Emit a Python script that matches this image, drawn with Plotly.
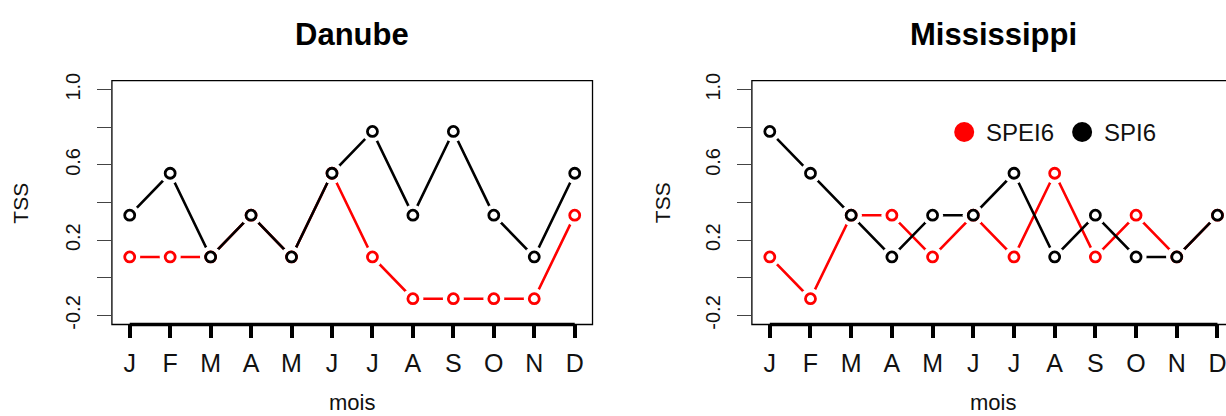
import plotly.graph_objects as go

# Monthly TSS scores per river basin for the two drought indices
months = ["J", "F", "M", "A", "M", "J", "J", "A", "S", "O", "N", "D"]
danube_spi6 = [0.333, 0.556, 0.111, 0.333, 0.111, 0.556, 0.778, 0.333, 0.778, 0.333, 0.111, 0.556]
danube_spei6 = [0.111, 0.111, 0.111, 0.333, 0.111, 0.556, 0.111, -0.111, -0.111, -0.111, -0.111, 0.333]
miss_spi6 = [0.778, 0.556, 0.333, 0.111, 0.333, 0.333, 0.556, 0.111, 0.333, 0.111, 0.111, 0.333]
miss_spei6 = [0.111, -0.111, 0.333, 0.333, 0.111, 0.333, 0.111, 0.556, 0.111, 0.333, 0.111, 0.333]
y_tick_vals = [-0.2, 0.0, 0.2, 0.4, 0.6, 0.8, 1.0]
y_tick_text = ["-0.2", "", "0.2", "", "0.6", "", "1.0"]
panel_titles = ["Danube", "Mississippi"]
series_names = ["SPEI6", "SPI6"]
series_colors = ["#ff0000", "#000000"]

W, H = 1226, 416
FONT = "Liberation Sans, Arial, sans-serif"
TXT = "#111111"
x_idx = list(range(1, len(months) + 1))


def px_x(p):
    return p / W


def px_y(p):
    return 1 - p / H


fig = go.Figure()

panels = [
    ("x", "y", [danube_spei6, danube_spi6]),
    ("x2", "y2", [miss_spei6, miss_spi6]),
]

for xa, ya, series in panels:
    # connecting lines
    for vals, col in zip(series, series_colors):
        fig.add_trace(go.Scatter(x=x_idx, y=vals, mode="lines", xaxis=xa, yaxis=ya,
                                 line=dict(color=col, width=2.6), showlegend=False,
                                 hoverinfo="skip"))
    # white halo leaves a gap between line and point (R type="b")
    for vals in series:
        fig.add_trace(go.Scatter(x=x_idx, y=vals, mode="markers", xaxis=xa, yaxis=ya,
                                 marker=dict(color="white", size=21, line=dict(width=0)),
                                 showlegend=False, hoverinfo="skip"))
    # open circle points
    for vals, col, name in zip(series, series_colors, series_names):
        fig.add_trace(go.Scatter(x=x_idx, y=vals, mode="markers", xaxis=xa, yaxis=ya,
                                 name=name,
                                 marker=dict(color="white", size=10,
                                             line=dict(color=col, width=2.8)),
                                 showlegend=False))

y_dom = [px_y(326.7), px_y(75)]
x_dom1 = [px_x(112), px_x(593)]
x_dom2 = [px_x(752.5), 1.0]

xaxis_common = dict(
    tickmode="array", tickvals=x_idx, ticktext=months,
    ticks="outside", ticklen=13, tickwidth=3.5, tickcolor="black",
    tickfont=dict(family=FONT, size=25, color=TXT),
    showgrid=False, zeroline=False, showline=False,
    ticklabelstandoff=4, ticklabeloverflow="allow",
)
yaxis_common = dict(
    range=[-0.248, 1.048], tickmode="array", tickvals=y_tick_vals, ticktext=y_tick_text,
    ticks="outside", ticklen=14, tickwidth=1.2, tickcolor="#444444",
    tickfont=dict(family=FONT, size=20, color=TXT), tickangle=-90,
    showgrid=False, zeroline=False, showline=False, domain=y_dom,
    ticklabelstandoff=9,
)

fig.update_layout(
    width=W, height=H, margin=dict(l=0, r=0, t=0, b=0),
    plot_bgcolor="white", paper_bgcolor="white",
    xaxis=dict(domain=x_dom1, range=[0.56, 12.44], **xaxis_common),
    xaxis2=dict(domain=x_dom2, range=[0.56, 0.56 + (1226 - 752.5) / 40.73],
                anchor="y2", **xaxis_common),
    yaxis=dict(anchor="x", **yaxis_common),
    yaxis2=dict(anchor="x2", **yaxis_common),
    showlegend=False,
)

shapes = []
annotations = []
box_specs = [("x", "y", 1.0), ("x2", "y2", 1.1)]
title_x = [px_x(352.5), px_x(994)]
for (xa, ya, right), title, tx in zip(box_specs, panel_titles, title_x):
    # plot frame
    shapes.append(dict(type="rect", xref=f"{xa} domain", yref=f"{ya} domain",
                       x0=0, x1=right, y0=0, y1=1, line=dict(color="black", width=1.3)))
    # heavy x axis line spanning first to last month
    shapes.append(dict(type="line", xref=xa, yref=f"{ya} domain",
                       x0=x_idx[0], x1=x_idx[-1], y0=0, y1=0,
                       line=dict(color="black", width=3.5)))
    annotations.append(dict(text=f"<b>{title}</b>", xref="paper", yref="paper",
                            x=tx, y=px_y(27), showarrow=False,
                            font=dict(family=FONT, size=31, color="black"),
                            xanchor="center", yanchor="middle"))
    annotations.append(dict(text="mois", xref="paper", yref="paper",
                            x=tx, y=px_y(407), showarrow=False,
                            font=dict(family=FONT, size=22, color=TXT),
                            xanchor="center", yanchor="middle"))

for xc in [21, 663]:
    annotations.append(dict(text="TSS", xref="paper", yref="paper",
                            x=px_x(xc), y=px_y(201), showarrow=False, textangle=-90,
                            font=dict(family=FONT, size=21, color=TXT),
                            xanchor="center", yanchor="middle"))

# legend in the Mississippi panel
legend_items = [(965, 988), (1083, 1106)]
for (cx, tx), name, col in zip(legend_items, series_names, series_colors):
    shapes.append(dict(type="circle", xref="paper", yref="paper",
                       xsizemode="pixel", ysizemode="pixel",
                       xanchor=px_x(cx), yanchor=px_y(128),
                       x0=-10, x1=10, y0=-10, y1=10,
                       fillcolor=col, line=dict(width=0)))
    annotations.append(dict(text=name, xref="paper", yref="paper",
                            x=px_x(tx - 3), y=px_y(128), showarrow=False,
                            font=dict(family=FONT, size=24, color=TXT),
                            xanchor="left", yanchor="middle"))

fig.update_layout(shapes=shapes, annotations=annotations)

fig.write_html("out.html")
